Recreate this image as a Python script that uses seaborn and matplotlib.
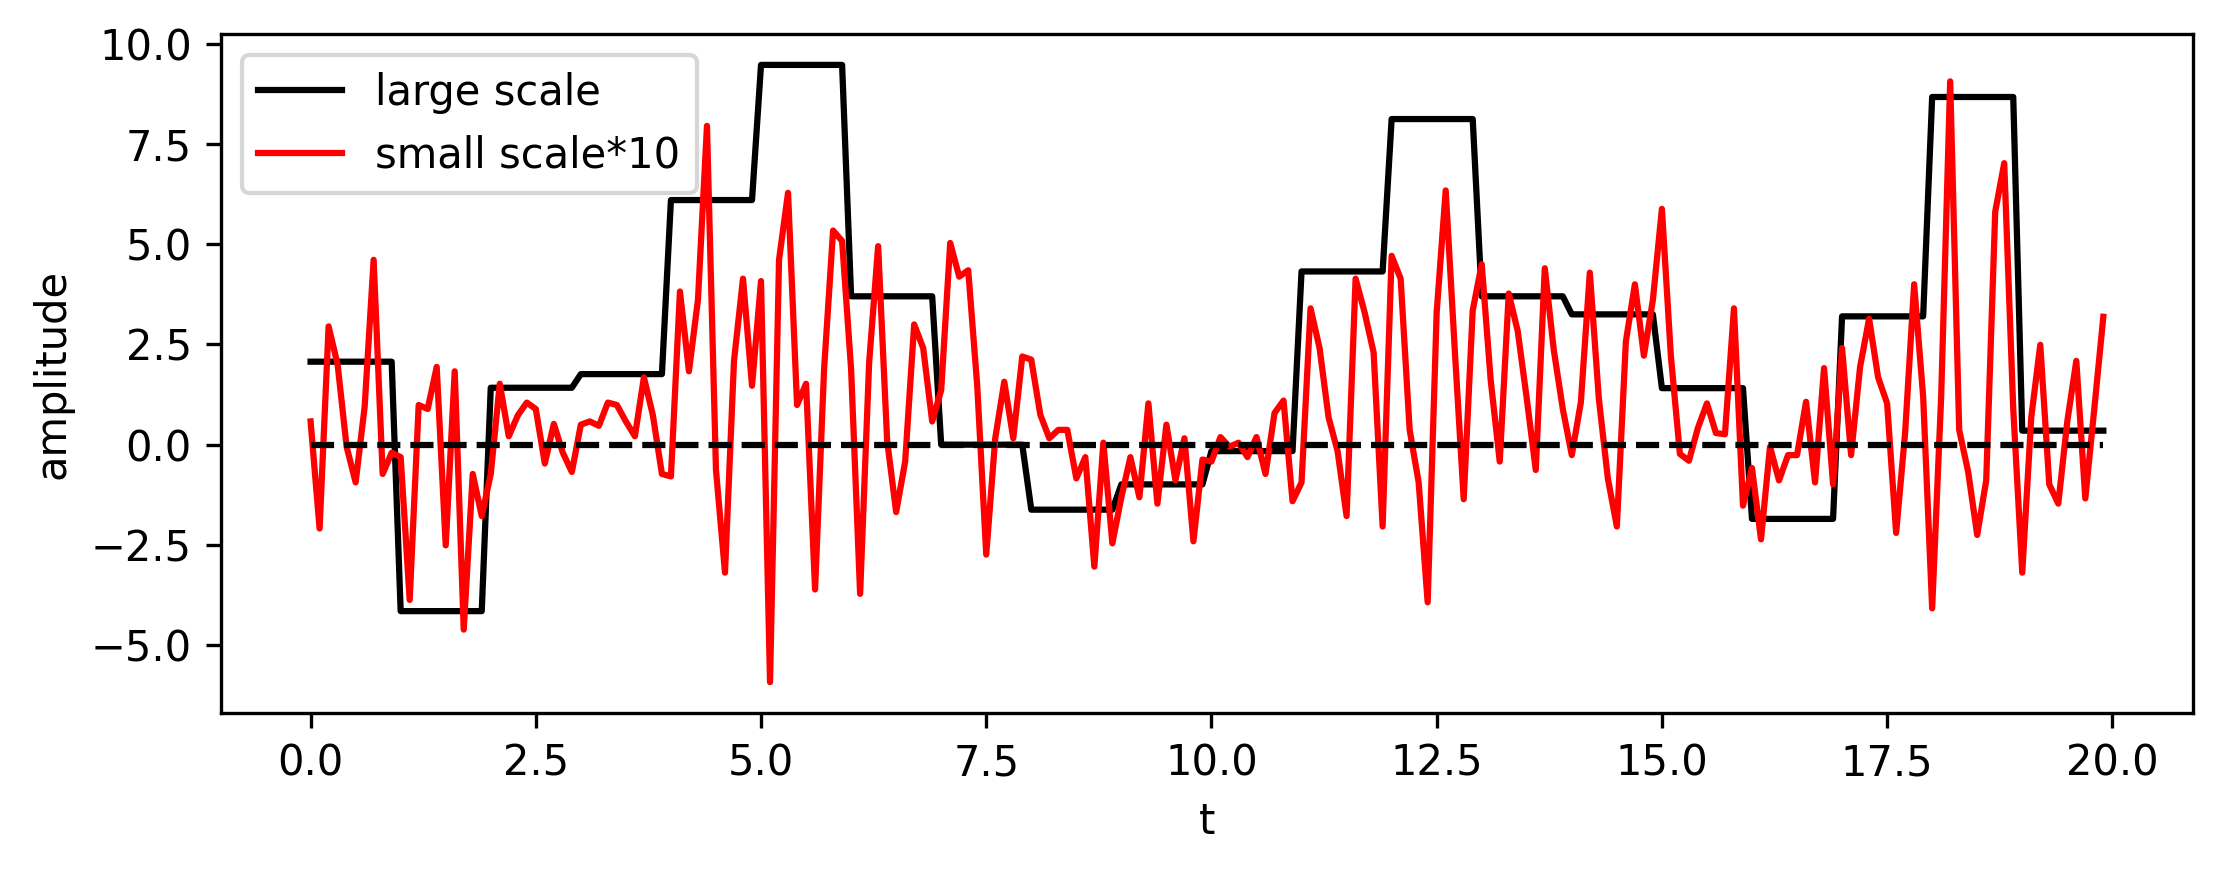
import numpy as np
import matplotlib
matplotlib.use("Agg")
import matplotlib.pyplot as plt
import seaborn as sns

# time axis: 200 samples, step 0.1
t = np.arange(200) / 10

# large scale signal: one level per unit interval of t
large_levels = [2.07, -4.15, 1.42, 1.76, 6.10, 9.47, 3.70, 0.0, -1.62, -0.99,
                -0.16, 4.32, 8.12, 3.70, 3.25, 1.41, -1.85, 3.20, 8.67, 0.35]

# small scale signal (already multiplied by 10), read per sample
small_scaled = [
    0.58, -2.09, 2.95, 2.00, -0.05, -0.94, 0.94, 4.61, -0.73, -0.20,
    -0.31, -3.87, 0.99, 0.89, 1.94, -2.51, 1.83, -4.61, -0.73, -1.78,
    -0.73, 1.52, 0.21, 0.73, 1.05, 0.89, -0.47, 0.52, -0.20, -0.68,
    0.50, 0.58, 0.47, 1.05, 0.99, 0.58, 0.21, 1.68, 0.73, -0.73,
    -0.79, 3.82, 1.83, 3.61, 7.95, -0.63, -3.19, 2.09, 4.14, 1.47,
    4.08, -5.92, 4.61, 6.28, 0.99, 1.52, -3.61, 1.88, 5.34, 5.08,
    1.88, -3.72, 2.04, 4.95, 0.10, -1.68, -0.42, 3.00, 2.41, 0.58,
    1.36, 5.03, 4.19, 4.35, 1.47, -2.74, 0.16, 1.57, 0.16, 2.20,
    2.12, 0.75, 0.16, 0.37, 0.37, -0.84, -0.31, -3.04, 0.05, -2.46,
    -1.31, -0.31, -1.31, 1.03, -1.47, 0.50, -0.89, 0.16, -2.41, -0.37,
    -0.42, 0.19, -0.05, 0.05, -0.31, 0.19, -0.73, 0.79, 1.10, -1.41,
    -0.94, 3.40, 2.41, 0.68, -0.16, -1.78, 4.14, 3.30, 2.30, -2.04,
    4.71, 4.14, 0.37, -0.94, -3.93, 3.30, 6.34, 2.40, -1.36, 3.35,
    4.50, 1.60, -0.42, 3.77, 2.83, 1.15, -0.63, 4.40, 2.36, 0.89,
    -0.26, 1.05, 4.29, 1.15, -0.84, -2.04, 2.57, 4.00, 2.22, 3.61,
    5.88, 2.20, -0.23, -0.40, 0.42, 1.03, 0.29, 0.26, 3.40, -1.52,
    -0.58, -2.36, -0.05, -0.89, -0.26, -0.26, 1.07, -0.94, 1.91, -0.99,
    2.41, -0.26, 1.94, 3.14, 1.68, 1.03, -2.20, 0.30, 4.00, 1.20,
    -4.08, 1.20, 9.06, 0.37, -0.68, -2.25, -0.89, 5.81, 7.02, 0.90,
    -3.19, 0.68, 2.49, -0.99, -1.47, 0.58, 2.09, -1.34, 0.90, 3.19,
]

large = np.repeat(large_levels, 10)
small = np.array(small_scaled)
zeros = np.zeros_like(t)

fig, ax = plt.subplots(figsize=(2225 / 300, 873 / 300), dpi=300)
fig.subplots_adjust(left=0.0993, right=0.9856, top=0.961, bottom=0.1833)

sns.lineplot(x=t, y=large, color="k", label="large scale", ax=ax, estimator=None)
sns.lineplot(x=t, y=small, color="r", label="small scale*10", ax=ax, estimator=None)
sns.lineplot(x=t, y=zeros, color="k", linestyle="--", ax=ax, estimator=None, legend=False)

ax.set_xlabel("t")
ax.set_ylabel("amplitude")
ax.legend(loc="upper left")

plt.savefig("out.png", dpi=300)
plt.close()
